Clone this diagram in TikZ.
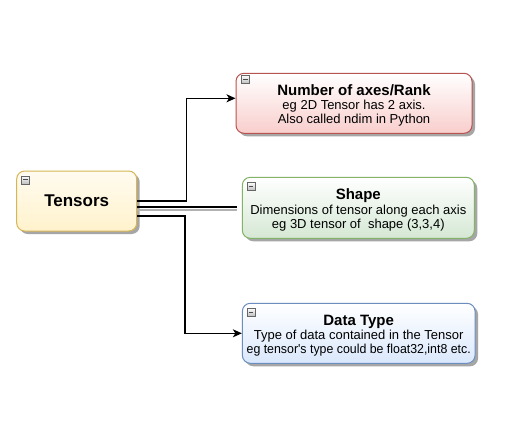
\documentclass[tikz,border=0pt]{standalone}
\usepackage{graphicx}
\usepackage{fontspec}
\setmainfont{Liberation Sans}
\newfontfamily\plainsans{Liberation Sans}
\usetikzlibrary{arrows.meta,calc,shadows}
\definecolor{tbord}{HTML}{D6B656}
\definecolor{tfill}{HTML}{FFF2CC}
\definecolor{rbord}{HTML}{B85450}
\definecolor{rfill}{HTML}{F8CECC}
\definecolor{gbord}{HTML}{82B366}
\definecolor{gfill}{HTML}{D5E8D4}
\definecolor{bbord}{HTML}{6C8EBF}
\definecolor{bfill}{HTML}{DAE8FC}
\tikzset{
  card/.style={rounded corners=8pt, line width=1pt, inner sep=0pt, align=center,
    font=\fontsize{13}{14}\selectfont,
    drop shadow={shadow xshift=3pt, shadow yshift=-3pt, fill=black!35, opacity=1}},
  conn/.style={line width=1.2pt, black},
  tip/.style={-{Stealth[length=9pt,width=8pt,inset=2.5pt]}},
  iconbox/.style={draw=black!60, line width=0.6pt, top color=white, bottom color=black!25,
    minimum width=8pt, minimum height=8pt, inner sep=0pt, anchor=north west}
}
\newcommand{\cardtitle}[1]{\rule{0pt}{15pt}{\bfseries\fontsize{15}{16}\selectfont #1}}
\newcommand{\collapseicon}[2]{%
  \node[iconbox] (#2) at (#1) {};
  \draw[black!70, line width=0.8pt] ($(#2.west)+(2pt,0)$) -- ($(#2.east)+(-2pt,0)$);}
\begin{document}
\begin{tikzpicture}[x=1pt,y=-1pt]
\useasboundingbox (0,0) rectangle (508,428);
\fill[white] (0,0) rectangle (508,428);

% boxes
\node[card, draw=tbord, top color=tfill!30, bottom color=tfill,
      minimum width=120pt, minimum height=60pt] (T) at (76.7,201)
  {\bfseries\fontsize{17}{18}\selectfont Tensors};
\node[card, draw=rbord, top color=white, bottom color=rfill,
      minimum width=236pt, minimum height=60pt] (N) at (354,103.3)
  {\cardtitle{Number of axes/Rank}\\[0.5pt]
   eg 2D Tensor has 2 axis.\\ Also called ndim in Python};
\node[card, draw=gbord, top color=white, bottom color=gfill,
      minimum width=232pt, minimum height=61pt] (S) at (358.3,207.8)
  {\cardtitle{Shape}\\[0.5pt]
   Dimensions of tensor along each axis\\ eg 3D tensor of\ \ shape (3,3,4)};
\node[card, draw=bbord, top color=white, bottom color=bfill,
      minimum width=232.7pt, minimum height=60pt] (D) at (358.7,333.3)
  {\cardtitle{Data Type}\\[0.5pt]
   Type of data contained in the Tensor\\
   \scalebox{0.95}[1]{\plainsans eg tensor's type could be float32,int8 etc.}};

% collapse icons
\collapseicon{$(T.north west)+(5,5)$}{iT}
\collapseicon{$(N.north west)+(5.5,2)$}{iN}
\collapseicon{$(S.north west)+(5,5)$}{iS}
\collapseicon{$(D.north west)+(5,5)$}{iD}

% connectors
\coordinate (bendtop) at (186.7,98.3);
\coordinate (bendbot) at (185,333.3);
\draw[conn, tip] (T.east) -| (bendtop) -- ($(N.west)+(0,-5)$);
\draw[black!30, line width=1.2pt] ($(T.east)+(0,9)$) -- ($(S.west)+(-5,2.2)$);
\draw[conn] ($(T.east)+(0,6)$) -- ($(S.west)+(-5,-0.8)$);
\draw[conn, tip] ($(T.east)+(0,15)$) -| (bendbot) -- (D.west);
\end{tikzpicture}
\end{document}
